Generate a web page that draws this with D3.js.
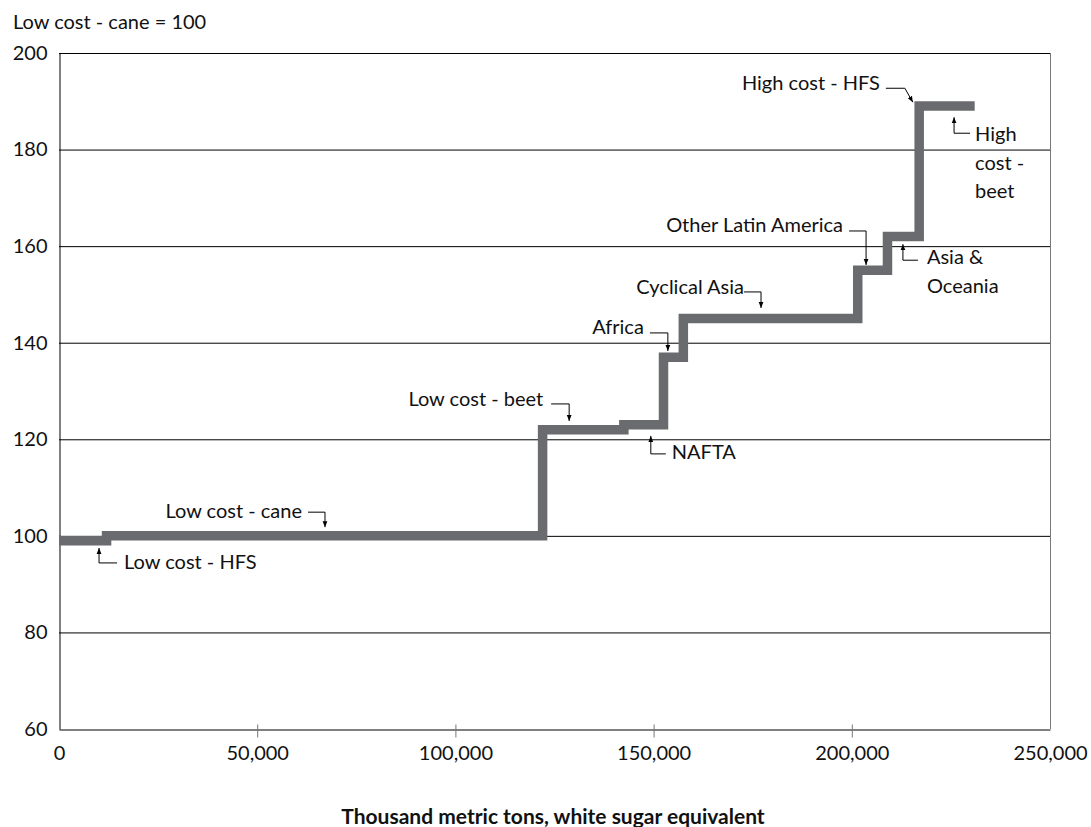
<!DOCTYPE html>
<html>
<head>
<meta charset="utf-8">
<script src="https://cdn.jsdelivr.net/npm/d3@7"></script>
<style>
  html, body { margin: 0; padding: 0; background: #fff; }
  svg { display: block; font-family: Lato, "Open Sans", sans-serif; }
</style>
</head>
<body>
<svg id="chart" width="1091" height="827"></svg>
<script>
// ---- Data ----
const regions = ["Low cost - HFS", "Low cost - cane", "Low cost - beet", "NAFTA", "Africa",
  "Cyclical Asia", "Other Latin America", "Asia & Oceania", "High cost - HFS", "High cost - beet"];
const capacityStart = [0, 12000, 122000, 142500, 152500, 157500, 201500, 209000, 217000, 218000];
const capacityEnd   = [12000, 122000, 142500, 152500, 157500, 201500, 209000, 217000, 218000, 231000];
const costIndex     = [99, 100, 122, 123, 137, 145, 155, 162, 189, 189];

const xTicks = [0, 50000, 100000, 150000, 200000, 250000];
const yTicks = [60, 80, 100, 120, 140, 160, 180, 200];
const yTitle = "Low cost - cane = 100";
const xTitle = "Thousand metric tons, white sugar equivalent";

// annotation: label lines, tip in data coords, elbow/text offsets (px) relative to tip
const annotations = [
  { lines: ["Low cost - cane"], tip: [67100, 101.8], dir: "down", elbow: [-17, -15], text: [-23, -17], anchor: "end" },
  { lines: ["Low cost - HFS"], tip: [10100, 97.5], dir: "up", elbow: [18, 15], text: [25, 13], anchor: "start" },
  { lines: ["Low cost - beet"], tip: [128700, 123.8], dir: "down", elbow: [-18, -17], text: [-26, -23], anchor: "end" },
  { lines: ["NAFTA"], tip: [149300, 120.7], dir: "up", elbow: [15, 18], text: [21, 15], anchor: "start" },
  { lines: ["Africa"], tip: [153600, 138.3], dir: "down", elbow: [-18, -18], text: [-24, -25], anchor: "end" },
  { lines: ["Cyclical Asia"], tip: [177100, 147.2], dir: "down", elbow: [-17, -16], text: [-17, -22], anchor: "end" },
  { lines: ["Other Latin America"], tip: [203600, 156.1], dir: "down", elbow: [-17, -34], text: [-23, -41], anchor: "end" },
  { lines: ["Asia &", "Oceania"], tip: [212900, 160.4], dir: "up", elbow: [15, 16], text: [24, 12], anchor: "start" },
  { lines: ["High cost - HFS"], tip: [215400, 189.8], dir: "diag", elbow: [-27, -14], text: [-33, -20], anchor: "end" },
  { lines: ["High", "cost -", "beet"], tip: [225800, 186.7], dir: "up", elbow: [16, 16], text: [21, 16], anchor: "start" }
];

// ---- Layout ----
const svg = d3.select("#chart");
const mLeft = 59, mRight = 1050, mTop = 53, mBottom = 729;

const x = d3.scaleLinear().domain([0, 250000]).range([mLeft, mRight]);
const y = d3.scaleLinear().domain([60, 200]).range([mBottom, mTop]);

// gridlines
svg.append("g").selectAll("line").data(yTicks.filter(d => d > 60)).join("line")
  .attr("x1", mLeft).attr("x2", mRight)
  .attr("y1", d => y(d) + 0.5).attr("y2", d => y(d) + 0.5)
  .attr("stroke", "#000").attr("stroke-width", 1);

// right border
svg.append("line").attr("x1", mRight + 0.5).attr("x2", mRight + 0.5)
  .attr("y1", mTop).attr("y2", mBottom).attr("stroke", "#777").attr("stroke-width", 1);

// x axis
const xAxis = d3.axisBottom(x).tickValues(xTicks).tickSizeInner(8).tickSizeOuter(0)
  .tickFormat(d3.format(","));
const gx = svg.append("g").attr("transform", `translate(0,${mBottom + 0.5})`).call(xAxis);
gx.select(".domain").attr("stroke", "#000");
gx.selectAll(".tick line").attr("stroke", "#777").attr("y1", -5).attr("y2", 8);
gx.selectAll(".tick text").attr("font-size", 20).attr("font-family", "Lato").attr("fill", "#111").attr("dy", "0").attr("y", 30);
gx.selectAll(".tick").filter(d => d === 0 || d === 250000).select("line").remove();

// y axis
const yAxis = d3.axisLeft(y).tickValues(yTicks).tickSize(0).tickPadding(12);
const gy = svg.append("g").attr("transform", `translate(${mLeft + 0.5},0)`).call(yAxis);
gy.select(".domain").attr("stroke", "#000");
gy.selectAll(".tick text").attr("font-size", 20).attr("font-family", "Lato").attr("fill", "#111");

// step line
const pts = capacityStart.map((s, i) => [s, costIndex[i]]);
pts.push([capacityEnd[capacityEnd.length - 1], costIndex[costIndex.length - 1]]);
const line = d3.line().x(d => x(d[0])).y(d => y(d[1])).curve(d3.curveStepAfter);
svg.append("path").datum(pts).attr("d", line)
  .attr("fill", "none").attr("stroke", "#6a6b6e").attr("stroke-width", 9.5)
  .attr("stroke-linejoin", "miter").attr("stroke-linecap", "butt");

// arrow marker
svg.append("defs").append("marker").attr("id", "arr")
  .attr("viewBox", "0 0 10 10").attr("refX", 10).attr("refY", 5)
  .attr("markerWidth", 6).attr("markerHeight", 6).attr("markerUnits", "userSpaceOnUse")
  .attr("orient", "auto")
  .append("path").attr("d", "M0,1 L10,5 L0,9 Z").attr("fill", "#000");

// annotations
const ga = svg.append("g");
annotations.forEach(a => {
  const tx = x(a.tip[0]), ty = y(a.tip[1]);
  const ex = tx + a.elbow[0], ey = ty + a.elbow[1];
  let d;
  if (a.dir === "down" || a.dir === "up") {
    d = `M${ex},${ey} L${tx},${ey} L${tx},${ty}`;
  } else {
    d = `M${ex},${ey} L${tx - 8},${ey} L${tx},${ty}`;
  }
  ga.append("path").attr("d", d).attr("fill", "none").attr("stroke", "#000")
    .attr("stroke-width", 1).attr("marker-end", "url(#arr)");
  const t = ga.append("text").attr("font-size", 20).attr("fill", "#111")
    .attr("text-anchor", a.anchor);
  a.lines.forEach((ln, i) => {
    t.append("tspan").attr("x", tx + a.text[0]).attr("y", ty + a.text[1] + i * 28.5)
      .attr("dominant-baseline", "central").text(ln);
  });
});

// titles
svg.append("text").attr("x", 13).attr("y", 21).attr("dominant-baseline", "central")
  .attr("font-size", 20).attr("fill", "#111").text(yTitle);
svg.append("text").attr("x", 553).attr("y", 815).attr("dominant-baseline", "central")
  .attr("text-anchor", "middle").attr("font-size", 21).attr("font-weight", "bold")
  .attr("fill", "#111").text(xTitle);
</script>
</body>
</html>
